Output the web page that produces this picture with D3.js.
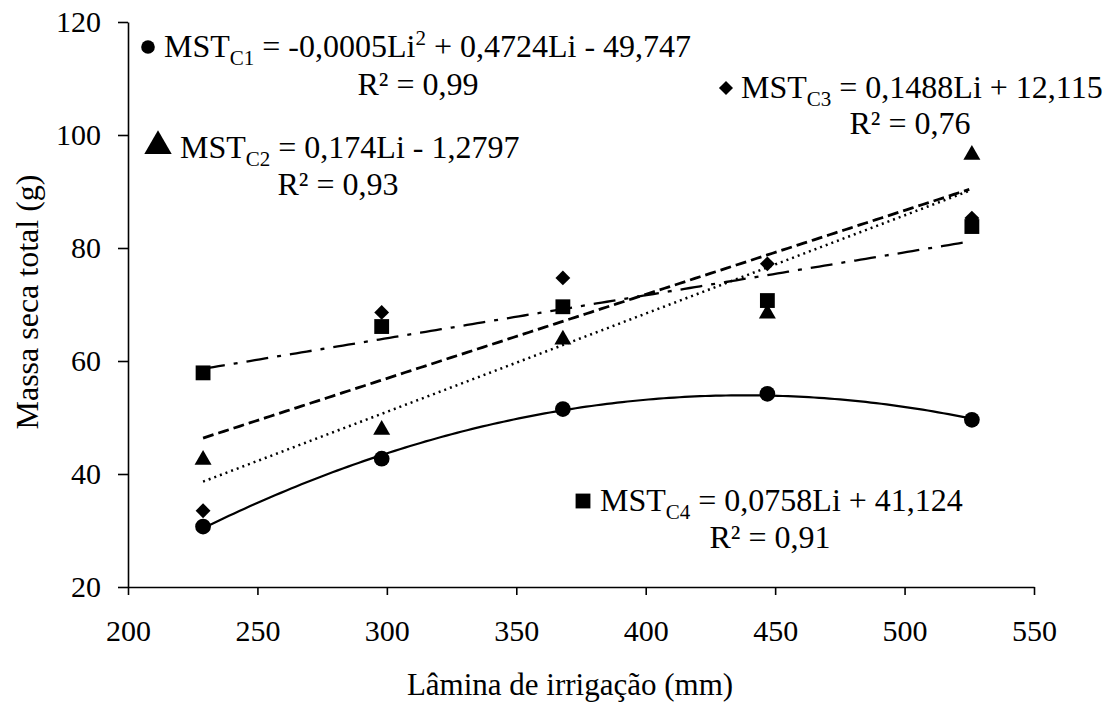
<!DOCTYPE html>
<html>
<head>
<meta charset="utf-8">
<script src="https://cdn.jsdelivr.net/npm/d3@7"></script>
<style>
  body { margin: 0; background: #fff; }
  svg text { font-family: "Liberation Serif", "Times New Roman", Times, "DejaVu Serif", serif; fill: #000; }
</style>
</head>
<body>
<div id="chart"></div>
<script>
const lamina = [229, 298, 368, 447, 526];
const c1 = [30.7, 42.7, 51.5, 54.2, 49.6];
const c2 = [42.5, 47.8, 63.8, 68.4, 96.5];
const c3 = [33.5, 68.6, 74.7, 77.2, 85.3];
const c4 = [57.9, 66.1, 69.6, 70.7, 83.8];
const xTicks = [200, 250, 300, 350, 400, 450, 500, 550];
const yTicks = [20, 40, 60, 80, 100, 120];

const serif = '"Liberation Serif", "Times New Roman", Times, "DejaVu Serif", serif';

const margin = { top: 22, right: 77, bottom: 121, left: 128 },
      width = 1111 - margin.left - margin.right,
      height = 708 - margin.top - margin.bottom;

const root = d3.select("#chart")
    .append("svg")
    .attr("width", width + margin.left + margin.right)
    .attr("height", height + margin.top + margin.bottom);
const svg = root.append("g")
    .attr("transform", `translate(${margin.left},${margin.top})`);

const xScale = d3.scaleLinear().domain([200, 550]).range([0, width]);
const yScale = d3.scaleLinear().domain([20, 120]).range([height, 0]);

// least squares fits (the trend lines)
function linFit(xs, ys) {
    const mx = d3.mean(xs), my = d3.mean(ys);
    const b = d3.sum(xs, (x, i) => (x - mx) * (ys[i] - my)) / d3.sum(xs, x => (x - mx) ** 2);
    return x => my + b * (x - mx);
}
function quadFit(xs, ys) {
    const mx = d3.mean(xs);
    const u = xs.map(x => x - mx);
    const s = k => d3.sum(u, v => v ** k);
    const t = k => d3.sum(u, (v, i) => v ** k * ys[i]);
    // normal equations, Cramer's rule
    const A = [[s(4), s(3), s(2)], [s(3), s(2), s(1)], [s(2), s(1), u.length]];
    const B = [t(2), t(1), t(0)];
    const det = m => m[0][0] * (m[1][1] * m[2][2] - m[1][2] * m[2][1])
        - m[0][1] * (m[1][0] * m[2][2] - m[1][2] * m[2][0])
        + m[0][2] * (m[1][0] * m[2][1] - m[1][1] * m[2][0]);
    const D = det(A);
    const coef = [0, 1, 2].map(j => det(A.map((row, i) => row.map((v, k) => k === j ? B[i] : v))) / D);
    return x => coef[0] * (x - mx) ** 2 + coef[1] * (x - mx) + coef[2];
}

const series = [
    { values: c1, fit: quadFit(lamina, c1), dash: null, width: 2.2, sym: "circle" },
    { values: c2, fit: linFit(lamina, c2), dash: "2,4", width: 2.5, sym: "triangle" },
    { values: c3, fit: linFit(lamina, c3), dash: "11,5", width: 2.8, sym: "diamond" },
    { values: c4, fit: linFit(lamina, c4), dash: "22,9,4,9", width: 2.3, sym: "square" }
];

//Axes
const xAxis = svg.append("g")
    .attr("transform", `translate(0,${height})`)
    .call(d3.axisBottom(xScale).tickValues(xTicks).tickSize(8).tickSizeOuter(0).tickPadding(25));
const yAxis = svg.append("g")
    .call(d3.axisLeft(yScale).tickValues(yTicks).tickSize(10).tickSizeOuter(0).tickPadding(17));

[xAxis, yAxis].forEach(a => {
    a.attr("font-family", serif).attr("font-size", 30);
    a.selectAll("path, line").attr("stroke", "#000").attr("stroke-width", 1.6);
    a.selectAll("text").attr("fill", "#000");
});

//Trend lines
const line = d3.line().x(d => xScale(d[0])).y(d => yScale(d[1]));
series.forEach(s => {
    const pts = d3.range(lamina[0], lamina[4] + 0.5, 2).map(x => [x, s.fit(x)]);
    svg.append("path")
        .datum(pts)
        .attr("fill", "none")
        .attr("stroke", "#000")
        .attr("stroke-width", s.width)
        .attr("stroke-dasharray", s.dash)
        .attr("d", line);
});

//Markers
const symType = { circle: d3.symbolCircle, triangle: d3.symbolTriangle, diamond: d3.symbolSquare, square: d3.symbolSquare };
const symSize = { circle: 195, triangle: 125, diamond: 110, square: 220 };
function addSymbol(g, name, x, y, scale) {
    g.append("path")
        .attr("d", d3.symbol().type(symType[name]).size(symSize[name] * (scale || 1))())
        .attr("transform", `translate(${x},${y})` + (name === "diamond" ? " rotate(45)" : ""))
        .attr("fill", "#000");
}
series.forEach(s => {
    s.values.forEach((v, i) => addSymbol(svg, s.sym, xScale(lamina[i]), yScale(v)));
});

//Equations
const eqs = [
    { sym: "circle", sx: 148, sy: 47, ss: 0.75, x: 164, y: 57, parts: [["MST", 0], ["C1", 1], [" = -0,0005Li", 0], ["2", 2], [" + 0,4724Li - 49,747", 0]],
      r2: "R² = 0,99", rx: 418, ry: 95 },
    { sym: "triangle", sx: 158, sy: 146, ss: 2.6, x: 180, y: 158, parts: [["MST", 0], ["C2", 1], [" = 0,174Li - 1,2797", 0]],
      r2: "R² = 0,93", rx: 338, ry: 195 },
    { sym: "diamond", sx: 726, sy: 88, ss: 0.9, x: 741, y: 98, parts: [["MST", 0], ["C3", 1], [" = 0,1488Li + 12,115", 0]],
      r2: "R² = 0,76", rx: 910, ry: 134 },
    { sym: "square", sx: 583, sy: 501, ss: 1.0, x: 600, y: 511, parts: [["MST", 0], ["C4", 1], [" = 0,0758Li + 41,124", 0]],
      r2: "R² = 0,91", rx: 770, ry: 548 }
];
eqs.forEach(e => {
    addSymbol(root, e.sym, e.sx, e.sy, e.ss);
    const t = root.append("text").attr("x", e.x).attr("y", e.y)
        .attr("font-family", serif).style("font-size", "32px");
    let shift = 0;
    e.parts.forEach(p => {
        const target = p[1] === 1 ? 8 : p[1] === 2 ? -12 : 0;
        t.append("tspan")
            .attr("dy", target - shift)
            .style("font-size", p[1] ? "21px" : "32px")
            .text(p[0]);
        shift = target;
    });
    root.append("text")
        .attr("x", e.rx).attr("y", e.ry)
        .attr("text-anchor", "middle")
        .attr("font-family", serif)
        .style("font-size", "32px")
        .text(e.r2);
});

//Axis labels
root.append("text")
    .attr("x", 570)
    .attr("y", 695)
    .attr("text-anchor", "middle")
    .attr("font-family", serif)
    .style("font-size", "31px")
    .text("Lâmina de irrigação (mm)");

root.append("text")
    .attr("transform", "rotate(-90)")
    .attr("x", -302)
    .attr("y", 38)
    .attr("text-anchor", "middle")
    .attr("font-family", serif)
    .style("font-size", "32px")
    .text("Massa seca total (g)");
</script>
</body>
</html>
